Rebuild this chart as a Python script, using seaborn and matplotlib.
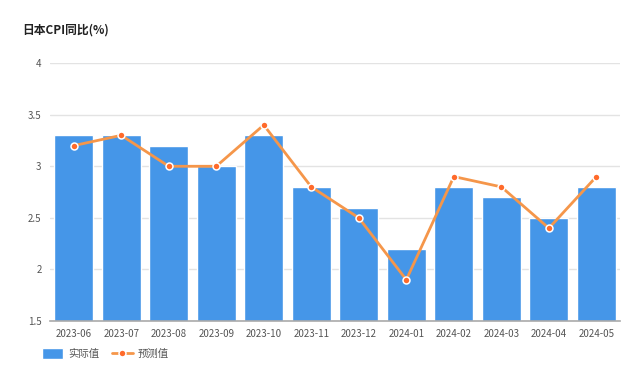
import seaborn as sns
import matplotlib.pyplot as plt
import pandas as pd

months = ['2023-06', '2023-07', '2023-08', '2023-09', '2023-10', '2023-11',
          '2023-12', '2024-01', '2024-02', '2024-03', '2024-04', '2024-05']
actual = [3.3, 3.3, 3.2, 3.0, 3.3, 2.8, 2.6, 2.2, 2.8, 2.7, 2.5, 2.8]
forecast = [3.2, 3.3, 3.0, 3.0, 3.4, 2.8, 2.5, 1.9, 2.9, 2.8, 2.4, 2.9]

df = pd.DataFrame({'month': months, 'actual': actual, 'forecast': forecast})

sns.set_style('white')
plt.rcParams['font.family'] = ['Noto Sans CJK SC', 'DejaVu Sans']

fig = plt.figure(figsize=(6.4, 3.69), dpi=100)
ax = fig.add_axes([0.078, 0.130, 0.891, 0.699])

sns.barplot(data=df, x='month', y='actual', color='#4596E8', saturation=1,
            width=0.82, ax=ax, label='实际值', zorder=2)
sns.lineplot(x=range(len(months)), y=forecast, color='#F5964A', linewidth=2,
             marker='o', markersize=5, markerfacecolor='#FF6A2A',
             markeredgecolor='white', markeredgewidth=1.1, ax=ax,
             label='预测值', zorder=3)

ax.set_ylim(1.5, 4)
ax.set_yticks([1.5, 2, 2.5, 3, 3.5, 4])
ax.set_yticklabels(['1.5', '2', '2.5', '3', '3.5', '4'])
ax.set_xlim(-0.5, len(months) - 0.5)
ax.yaxis.grid(True, color='#E3E3E3', linewidth=1, zorder=0)
ax.set_axisbelow(True)
for s in ['top', 'right', 'left']:
    ax.spines[s].set_visible(False)
ax.spines['bottom'].set_color('#AAAAAA')
ax.spines['bottom'].set_linewidth(1.2)
ax.tick_params(axis='both', length=0, labelsize=7, colors='#555555', pad=6)
ax.set_xlabel('')
ax.set_ylabel('')

fig.text(0.034, 0.91, '日本CPI同比(%)', fontsize=8.5, fontweight='bold', color='#222222')

handles, labels = ax.get_legend_handles_labels()
order = [labels.index('实际值'), labels.index('预测值')]
ax.legend([handles[i] for i in order], [labels[i] for i in order],
          loc='upper left', bbox_to_anchor=(-0.03, -0.07), ncol=2, frameon=False,
          fontsize=7.5, handlelength=2.0, handleheight=1.2, handletextpad=0.5,
          columnspacing=1.2, labelcolor='#555555')

fig.savefig('out.png', dpi=100)
